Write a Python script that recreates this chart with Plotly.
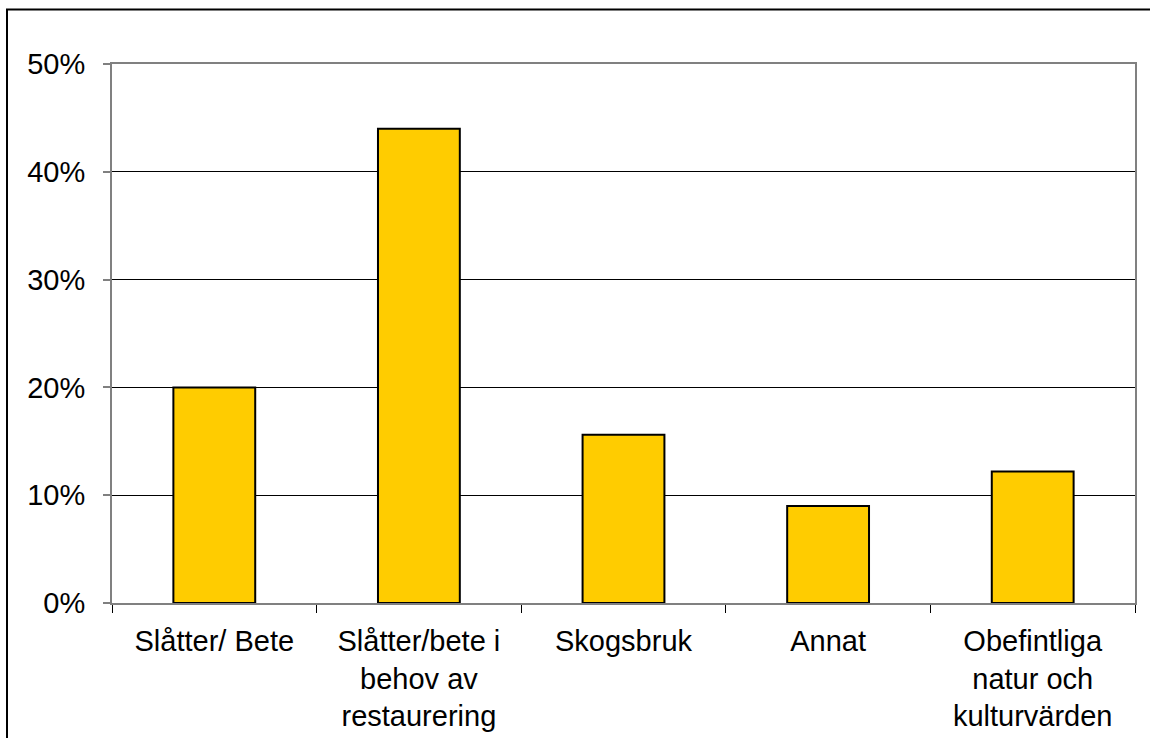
import plotly.graph_objects as go

categories = [
    "Slåtter/ Bete",
    "Slåtter/bete i<br>behov av<br>restaurering",
    "Skogsbruk",
    "Annat",
    "Obefintliga<br>natur och<br>kulturvärden",
]
values = [20.0, 44.0, 15.6, 9.0, 12.2]
y_ticks = [0, 10, 20, 30, 40, 50]
y_tick_labels = ["0%", "10%", "20%", "30%", "40%", "50%"]

W, H = 1150, 738
L, R, T, B = 112, 15, 64, 135
pw, ph = W - L - R, H - T - B

fig = go.Figure(
    go.Bar(
        x=categories,
        y=values,
        marker=dict(color="#FFCC00", line=dict(color="black", width=2)),
    )
)

font = dict(family="Liberation Sans, Arial, sans-serif", size=29, color="black")

fig.update_layout(
    width=W,
    height=H,
    margin=dict(l=L, r=R, t=T, b=B, pad=0),
    paper_bgcolor="white",
    plot_bgcolor="white",
    font=font,
    bargap=0.6,
    showlegend=False,
    xaxis=dict(
        type="category",
        automargin=False,
        showline=True,
        linecolor="#808080",
        linewidth=2,
        mirror=True,
        ticks="outside",
        tickson="boundaries",
        ticklen=8,
        tickcolor="black",
        tickwidth=1,
        showgrid=False,
        tickfont=font,
        ticklabelstandoff=11,
    ),
    yaxis=dict(
        range=[0, 50],
        automargin=False,
        tickmode="array",
        tickvals=y_ticks,
        ticktext=y_tick_labels,
        showline=True,
        linecolor="#808080",
        linewidth=2,
        mirror=True,
        ticks="outside",
        ticklen=7,
        tickcolor="#808080",
        tickwidth=2,
        showgrid=True,
        gridcolor="black",
        gridwidth=1,
        zeroline=False,
        tickfont=font,
        ticklabelstandoff=12,
    ),
    shapes=[
        dict(
            type="rect",
            xref="paper",
            yref="paper",
            x0=(7 - L) / pw,
            x1=(W + 20 - L) / pw,
            y0=(T + ph - (H + 20)) / ph,
            y1=(T + ph - 9.5) / ph,
            line=dict(color="black", width=2),
            fillcolor="rgba(0,0,0,0)",
            layer="below",
        )
    ],
)

fig.write_html(
    "out.html",
    config={"displayModeBar": False},
    post_script="document.body.style.margin='0';document.body.style.overflow='hidden';",
)
